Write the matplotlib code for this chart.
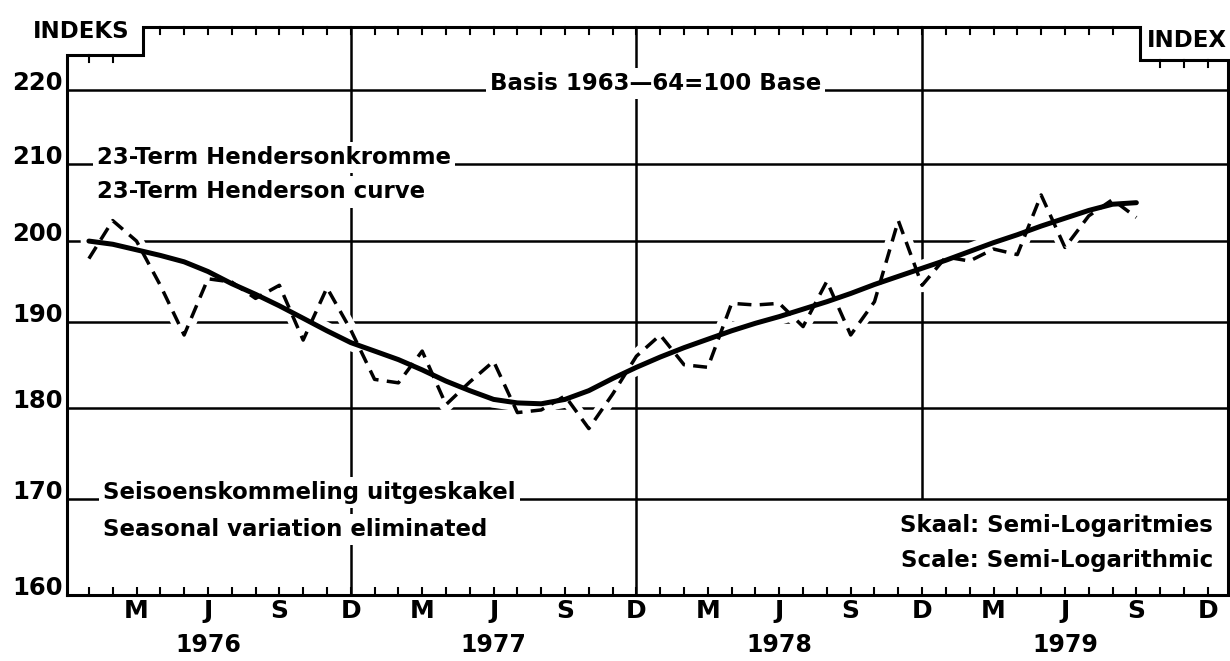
import numpy as np
import matplotlib.pyplot as plt
from matplotlib import transforms
from matplotlib.ticker import NullLocator, NullFormatter

plt.rcParams['font.family'] = ['DejaVu Sans Condensed', 'DejaVu Sans']
plt.rcParams['font.weight'] = 'bold'

# maand 1 = Januarie 1976
months = np.arange(1, 46)
seasonal = [197.8, 202.6, 200.0, 194.5, 188.5, 195.3, 194.9, 192.9, 194.5, 187.9,
            194.2, 189.1, 183.3, 182.9, 186.6, 180.4, 183.0, 185.4, 179.5, 179.8,
            181.4, 177.7, 181.6, 186.0, 188.5, 185.0, 184.7, 192.3, 192.1, 192.3,
            189.5, 195.0, 188.5, 192.5, 202.6, 194.5, 198.0, 197.5, 199.0, 198.3,
            205.9, 199.2, 203.2, 205.3, 203.0]
henderson = [200.0, 199.6, 198.9, 198.2, 197.4, 196.2, 194.7, 193.4, 192.0, 190.5,
             189.0, 187.6, 186.6, 185.6, 184.4, 183.1, 182.0, 181.0, 180.6, 180.5,
             181.0, 182.0, 183.4, 184.7, 185.9, 187.0, 188.0, 189.0, 189.9, 190.7,
             191.6, 192.5, 193.5, 194.6, 195.6, 196.6, 197.6, 198.7, 199.8, 200.8,
             201.9, 202.9, 203.9, 204.7, 204.9]

tick_months = np.arange(1, 49)
month_letters = {3: 'M', 6: 'J', 9: 'S', 0: 'D'}
years = ['1976', '1977', '1978', '1979']
year_pos = [6, 18, 30, 42]
year_lines = [12, 24, 36]
year_line_bottom = [160, 160, 170]
grid_vals = [170, 180, 190, 200, 210, 220]
y_ticks = [160, 170, 180, 190, 200, 210, 220]

x0, x1 = 0.08, 48.85
step_l, step_r = 3.27, 45.16
yl, yr = 0.951, 0.942

fig = plt.figure(figsize=(12.3, 6.61), dpi=100)
ax = fig.add_axes([67 / 1230, 66 / 661, 1161 / 1230, 568 / 661])
ax.set_yscale('log')
ax.set_ylim(160, 228.9)
ax.set_xlim(x0, x1)
for s in ax.spines.values():
    s.set_visible(False)

ax.set_yticks(y_ticks)
ax.set_yticklabels([str(v) for v in y_ticks])
ax.yaxis.set_minor_locator(NullLocator())
ax.yaxis.set_minor_formatter(NullFormatter())
ax.tick_params(axis='y', length=0, pad=3, labelsize=17.5)
for lab in ax.get_yticklabels():
    lab.set_va('baseline')

ax.set_xticks(tick_months)
ax.set_xticklabels([month_letters.get(m % 12, '') if m % 3 == 0 else '' for m in tick_months])
ax.tick_params(axis='x', direction='in', length=5.8, width=1.5, pad=3, labelsize=18)

# rooster
for v in grid_vals:
    ax.axhline(v, color='black', lw=1.8, zorder=1)
for m, yb in zip(year_lines, year_line_bottom):
    ax.vlines(m, yb, 228.9, color='black', lw=1.8, zorder=1)

# witrand om die krommes
ax.plot(months, seasonal, color='white', lw=10, zorder=2, solid_joinstyle='round')
ax.plot(months, henderson, color='white', lw=12, zorder=2, solid_capstyle='round')
ax.plot(months, seasonal, color='black', lw=2.5, ls=(0, (4, 2.4)), zorder=3)
ax.plot(months, henderson, color='black', lw=3.6, zorder=4, solid_capstyle='round')

# raam met trappies bo
bt = transforms.blended_transform_factory(ax.transData, ax.transAxes)
fx = [x0, x0, step_l, step_l, step_r, step_r, x1, x1, x0]
fy = [0, yl, yl, 1, 1, yr, yr, 0, 0]
ax.plot(fx, fy, color='black', lw=2.2, transform=bt, clip_on=False, zorder=5,
        solid_joinstyle='miter')
tl = 7 / 568
for m in tick_months:
    if abs(m - step_l) < 0.5 or abs(m - step_r) < 0.5:
        continue
    top = yl if m < step_l else (yr if m > step_r else 1)
    ax.plot([m, m], [top, top - tl], color='black', lw=1.5, transform=bt,
            clip_on=False, zorder=5)

for yname, yp in zip(years, year_pos):
    ax.text(yp, -0.088, yname, transform=bt, ha='center', va='center', fontsize=17)

box = dict(facecolor='white', edgecolor='none', pad=3)
ax.text(17.85, 220, 'Basis 1963\u201464=100 Base', ha='left', va='baseline',
        fontsize=16.5, bbox=box, zorder=3)
ax.text(1.34, 210, '23-Term Hendersonkromme', ha='left', va='baseline',
        fontsize=16.5, bbox=box, zorder=3)
ax.annotate('23-Term Henderson curve', xy=(1.34, 210), xytext=(0, -25),
            textcoords='offset points', ha='left', va='baseline', fontsize=16.5,
            bbox=box, zorder=3)
ax.text(1.59, 170, 'Seisoenskommeling uitgeskakel', ha='left', va='baseline',
        fontsize=16.5, bbox=box, zorder=3)
ax.annotate('Seasonal variation eliminated', xy=(1.59, 170), xytext=(0, -26.5),
            textcoords='offset points', ha='left', va='baseline', fontsize=16.5,
            bbox=box, zorder=3)
ax.text(48.23, 0.111, 'Skaal: Semi-Logaritmies', transform=bt, ha='right',
        va='baseline', fontsize=16.5)
ax.text(48.23, 0.049, 'Scale: Semi-Logarithmic', transform=bt, ha='right',
        va='baseline', fontsize=16.5)

fig.text(81 / 1230, 1 - 38 / 661, 'INDEKS', ha='center', va='baseline', fontsize=16.5)
fig.text(1227 / 1230, 1 - 47 / 661, 'INDEX', ha='right', va='baseline', fontsize=16.5)

fig.savefig('out.png', dpi=100)
